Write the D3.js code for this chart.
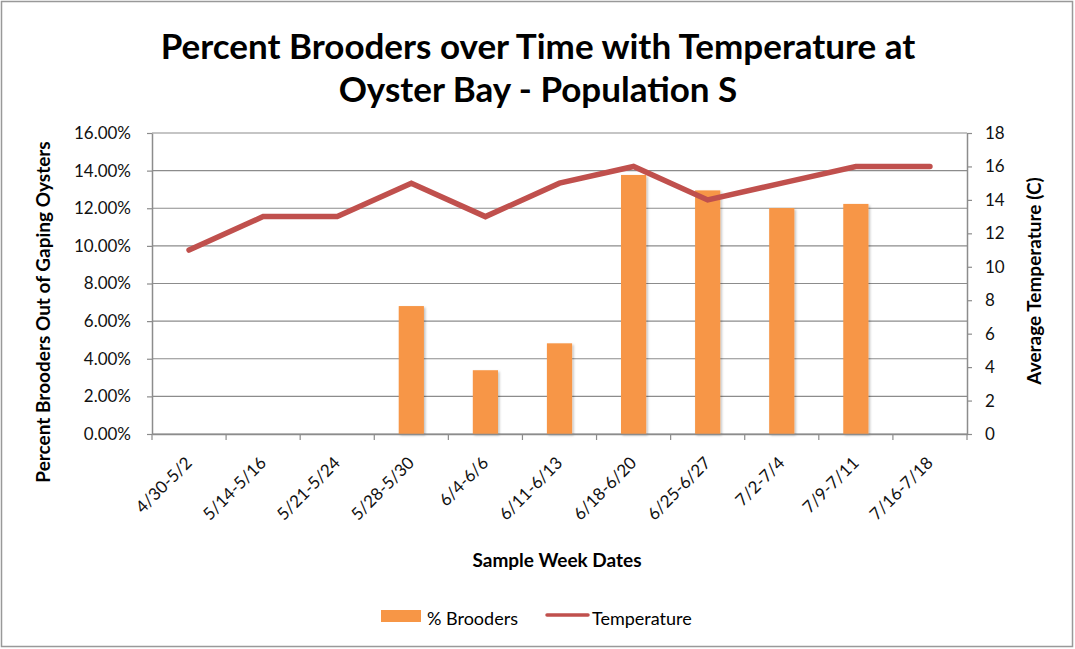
<!DOCTYPE html>
<html><head><meta charset="utf-8">
<script src="https://cdn.jsdelivr.net/npm/d3@7"></script>
<style>body{margin:0;background:#fff;}svg{display:block;}text{font-family:Lato,"Open Sans",sans-serif;}</style>
</head><body>
<svg id="c" width="1075" height="649"></svg>
<script>
const categories = ["4/30-5/2","5/14-5/16","5/21-5/24","5/28-5/30","6/4-6/6","6/11-6/13","6/18-6/20","6/25-6/27","7/2-7/4","7/9-7/11","7/16-7/18"];
const brooders = [null,null,null,0.068,0.0339,0.0482,0.1377,0.1295,0.1201,0.1223,null];
const temperature = [11,13,13,15,13,15,16,14,15,16,16];
const leftTicks = [0,0.02,0.04,0.06,0.08,0.10,0.12,0.14,0.16];
const rightTicks = [0,2,4,6,8,10,12,14,16,18];

const svg = d3.select("#c");
const L=152, R=967, T=133, B=434;
svg.append("rect").attr("x",1.5).attr("y",1.5).attr("width",1071).attr("height",645).attr("fill","none").attr("stroke","#999").attr("stroke-width",1.5);

const x = d3.scaleBand().domain(categories).range([L,R]);
const yL = d3.scaleLinear().domain([0,0.16]).range([B,T]);
const yR = d3.scaleLinear().domain([0,18]).range([B,T]);

// gridlines
svg.append("g").selectAll("line").data(leftTicks).join("line")
  .attr("x1",L).attr("x2",R).attr("y1",d=>yL(d)).attr("y2",d=>yL(d))
  .attr("stroke","#8c8c8c").attr("stroke-width",1.2);

// shadow filter
const defs = svg.append("defs");
const f = defs.append("filter").attr("id","sh").attr("x","-20%").attr("y","-20%").attr("width","150%").attr("height","150%");
f.append("feDropShadow").attr("dx",1.5).attr("dy",1.5).attr("stdDeviation",1.2).attr("flood-color","#000").attr("flood-opacity",0.25);

// bars
const bw = x.bandwidth()*0.34;
svg.append("g").selectAll("rect").data(categories.map((c,i)=>({c,v:brooders[i]})).filter(d=>d.v!=null)).join("rect")
  .attr("x",d=>x(d.c)+x.bandwidth()/2-bw/2).attr("width",bw)
  .attr("y",d=>yL(d.v)).attr("height",d=>B-yL(d.v))
  .attr("fill","#F79646").attr("filter","url(#sh)");

// left axis
const gl = svg.append("g").attr("transform",`translate(${L},0)`)
  .call(d3.axisLeft(yL).tickValues(leftTicks).tickFormat(d3.format(".2%")).tickSize(5).tickSizeOuter(0));
gl.select(".domain").attr("stroke","#8c8c8c").attr("stroke-width",1.5);
gl.selectAll(".tick line").attr("stroke","#8c8c8c").attr("stroke-width",1.2);
gl.selectAll(".tick text").attr("font-size",17).attr("fill","#111").attr("x",-21).attr("font-family","Lato,sans-serif");

// right axis
const gr = svg.append("g").attr("transform",`translate(${R},0)`)
  .call(d3.axisRight(yR).tickValues(rightTicks).tickSize(5).tickSizeOuter(0));
gr.select(".domain").attr("stroke","#8c8c8c").attr("stroke-width",1.5);
gr.selectAll(".tick line").attr("stroke","#8c8c8c").attr("stroke-width",1.2);
gr.selectAll(".tick text").attr("font-size",17).attr("fill","#111").attr("x",18).attr("font-family","Lato,sans-serif");

// bottom axis
const gb = svg.append("g").attr("transform",`translate(0,${B})`)
  .call(d3.axisBottom(x).tickSize(0).tickSizeOuter(0));
gb.select(".domain").attr("stroke","#8c8c8c").attr("stroke-width",1.5);
gb.selectAll(".tick text").attr("font-size",17).attr("fill","#111")
  .attr("text-anchor","end").attr("dy",0).attr("y",0)
  .attr("transform","translate(4,30) rotate(-45)").attr("font-family","Lato,sans-serif");
svg.append("g").selectAll("line").data(d3.range(categories.length+1)).join("line")
  .attr("x1",i=>L+i*x.step()).attr("x2",i=>L+i*x.step()).attr("y1",B).attr("y2",B+6)
  .attr("stroke","#8c8c8c").attr("stroke-width",1.2);

// temperature line
const line = d3.line().x((d,i)=>x(categories[i])+x.bandwidth()/2).y(d=>yR(d));
svg.append("path").datum(temperature).attr("d",line).attr("fill","none")
  .attr("stroke","#C0504D").attr("stroke-width",5.5).attr("stroke-linecap","round").attr("stroke-linejoin","miter");

// titles
svg.append("text").attr("x",538).attr("y",59).attr("text-anchor","middle").attr("font-size",35).attr("font-weight","bold").attr("fill","#000")
  .text("Percent Brooders over Time with Temperature at");
svg.append("text").attr("x",538).attr("y",102).attr("text-anchor","middle").attr("font-size",35).attr("font-weight","bold").attr("fill","#000")
  .text("Oyster Bay - Population S");
svg.append("text").attr("transform","translate(50,312) rotate(-90)").attr("text-anchor","middle").attr("font-size",19).attr("font-weight","bold").text("Percent Brooders Out of Gaping Oysters");
svg.append("text").attr("transform","translate(1041,281) rotate(-90)").attr("text-anchor","middle").attr("font-size",19).attr("font-weight","bold").text("Average Temperature (C)");
svg.append("text").attr("x",557).attr("y",567).attr("text-anchor","middle").attr("font-size",19).attr("font-weight","bold").text("Sample Week Dates");

// legend
const lg = svg.append("g");
lg.append("rect").attr("x",381).attr("y",610).attr("width",40).attr("height",12).attr("fill","#F79646");
lg.append("text").attr("x",427).attr("y",625).attr("font-size",18).text("% Brooders");
lg.append("line").attr("x1",547).attr("x2",588).attr("y1",615).attr("y2",615).attr("stroke","#C0504D").attr("stroke-width",3.5).attr("stroke-linecap","round");
lg.append("text").attr("x",592).attr("y",625).attr("font-size",18).text("Temperature");
</script>
</body></html>
